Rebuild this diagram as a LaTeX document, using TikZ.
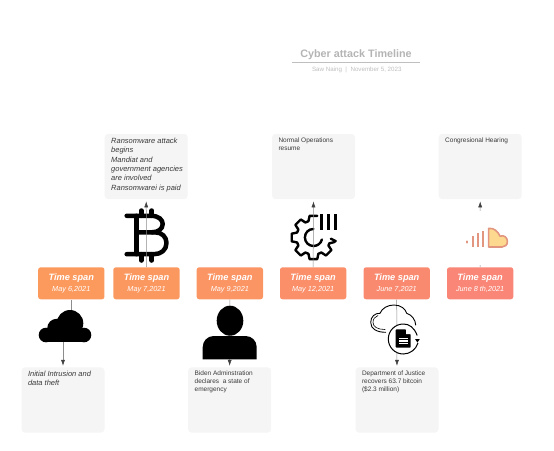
\documentclass[tikz,border=0pt]{standalone}
\usepackage{fontspec}
\setmainfont{Liberation Sans}
\usetikzlibrary{arrows.meta}
\definecolor{infofill}{HTML}{F5F5F5}
\definecolor{infotext}{HTML}{3A3A3A}
\definecolor{connline}{HTML}{8C8C8C}
\definecolor{connhead}{HTML}{404040}
\definecolor{titlegray}{HTML}{B4B4B4}
\definecolor{subgray}{HTML}{BEBEBE}
\definecolor{scbar}{HTML}{E2957F}
\definecolor{scfill}{HTML}{FDD98F}
\definecolor{tA}{HTML}{FC9A5E}
\definecolor{tB}{HTML}{FB9860}
\definecolor{tC}{HTML}{FB9564}
\definecolor{tD}{HTML}{FA8F6A}
\definecolor{tE}{HTML}{F98A70}
\definecolor{tF}{HTML}{F98676}
\newcommand{\spanlabel}[1]{{\fontsize{9.2}{11}\selectfont\bfseries\itshape Time span}\\[-0.5pt]{\fontsize{7.3}{9}\selectfont\itshape #1}}
\newcommand{\infobody}[2]{\parbox[c][59pt][t]{70pt}{\fontsize{#1}{#1}\selectfont\raggedright\hyphenpenalty=10000 #2}}
\tikzset{
  spanbox/.style={fill=#1,rounded corners=2.5pt,minimum width=66.3pt,minimum height=32pt,inner sep=0pt,text=white,align=center},
  infobox/.style={fill=infofill,rounded corners=3.5pt,minimum width=83pt,minimum height=65.3pt,inner xsep=6.5pt,inner ysep=3.15pt,text=infotext},
  conn/.style={draw=connline,line width=0.5pt,-{Latex[length=6pt,width=4pt,color=connhead]}},
  iconline/.style={draw=black,line cap=round,line join=round},
}
\begin{document}
\begin{tikzpicture}[x=1pt,y=-1pt]
\useasboundingbox (0,0) rectangle (554,450);
% title
\node[text=titlegray,inner sep=0pt,font=\fontsize{10.8}{12}\selectfont\bfseries] (title) at (356,55) {Cyber attack Timeline};
\coordinate (ruleL) at (292,62.5);
\coordinate (ruleR) at (420,62.5);
\draw[draw=black!25,line width=0.7pt] (ruleL) -- (ruleR);
\node[text=subgray,inner sep=0pt,font=\fontsize{6.2}{7}\selectfont] (sub) at (356.8,69.5) {Saw Naing\ \ |\ \ November 5, 2023};
% time spans
\node[spanbox=tA] (t1) at (71.3,283.3) {\spanlabel{May 6,2021}};
\node[spanbox=tB] (t2) at (146.5,283.3) {\spanlabel{May 7,2021}};
\node[spanbox=tC] (t3) at (229.85,283.3) {\spanlabel{May 9,2021}};
\node[spanbox=tD] (t4) at (313.15,283.3) {\spanlabel{May 12,2021}};
\node[spanbox=tE] (t5) at (396.7,283.3) {\spanlabel{June 7,2021}};
\node[spanbox=tF] (t6) at (480.15,283.3) {\spanlabel{June 8 th,2021}};
% info boxes
\node[infobox] (i2) at (146.2,166.5) {\infobody{7.5}{\itshape\vspace*{1pt}\baselineskip=9pt Ransomware attack\\begins\par\vspace{1pt}Mandiat and\\\mbox{government agencies}\\are involved\par\vspace{1pt}Ransomwarei is paid}};
\node[infobox] (i4) at (313.5,166.5) {\infobody{6.5}{\vspace*{1pt}\baselineskip=8pt Normal Operations resume}};
\node[infobox] (i6) at (480.2,166.5) {\infobody{6.5}{\vspace*{1pt}\baselineskip=8pt Congresional Hearing}};
\node[infobox] (i1) at (63,400) {\infobody{7.5}{\itshape\vspace*{0.5pt}\baselineskip=9pt Initial Intrusion and data theft}};
\node[infobox] (i3) at (229.65,400) {\infobody{6.5}{\vspace*{0.5pt}\baselineskip=8pt Biden Adminstration declares\ \ a state of emergency}};
\node[infobox] (i5) at (397,400) {\infobody{6.5}{\vspace*{0.5pt}\baselineskip=8pt Department of Justice recovers 63.7 bitcoin (\$2.3 million)}};
% bitcoin icon
\begin{scope}[iconline,line width=4.5pt]
\draw (126.7,215.8) -- (151,215.8) .. controls (159,215.8) and (162.7,220) .. (162.7,224) .. controls (162.7,229) and (158,232.3) .. (152,232.3) -- (136.3,232.3);
\draw (152,232.3) -- (155,232.3) .. controls (162,232.3) and (166.5,237) .. (166.5,243) .. controls (166.5,250) and (161,254.2) .. (154,254.2) -- (126.7,254.2);
\draw (136.3,215.8) -- (136.3,254.2);
\draw (141.3,210.5) -- (141.3,215.8) (151.7,210.5) -- (151.7,215.8);
\draw (141.3,254.2) -- (141.3,260.5) (151.7,254.2) -- (151.7,260.5);
\end{scope}
% gear icon
\begin{scope}[shift={(313.4,237.5)}]
\draw[iconline,line width=2.4pt]
 (-80:22) -- (-100:22) -- (-107:17) -- (-118:17) -- (-125:22) -- (-145:22) -- (-152:17) -- (-163:17)
 -- (-170:22) -- (-190:22) -- (-197:17) -- (-208:17) -- (-215:22) -- (-235:22) -- (-242:17) -- (-253:17)
 -- (-260:22) -- (-280:22) -- (-287:17) -- (-298:17) -- (-305:22) -- (-325:22) -- (-332:17) -- (-340:17)
 -- (-347:21) -- (-351:22.5) -- (-356:17.5);
\draw[iconline,line width=2.4pt] (0,-8.5) .. controls (-5,-8.5) and (-8.5,-4.7) .. (-8.5,0) .. controls (-8.5,4.7) and (-4.7,8.5) .. (0,8.5) .. controls (4,8.5) and (7.5,6) .. (8.5,2);
\end{scope}
\fill[black] (320.2,214.3) rectangle (323,230.3);
\fill[black] (326.9,214.3) rectangle (329.7,230.3);
\fill[black] (334.2,214.3) rectangle (337,230.3);
% connectors
\draw[conn,shorten >=2pt] (t2.north) -- (i2.south);
\draw[conn,shorten >=2pt] (t4.north) -- (i4.south);
\draw[conn,shorten >=2pt] (t6.north) -- (i6.south);
\draw[conn,shorten >=1.3pt] (t1.south) -- ++(0,20) -| (i1.north);
\draw[conn,shorten >=1.3pt] (t3.south) -- (i3.north);
\draw[conn,shorten >=1.3pt] (t5.south) -- (i5.north);
% soundcloud icon
\fill[white] (464,211) rectangle (510,265);
\begin{scope}[draw=scbar,line width=2.2pt]
\draw[line cap=round] (467.3,241.5) -- (467.3,242.5);
\draw (472.7,235.7) -- (472.7,246.7);
\draw (477.7,233.3) -- (477.7,247.3);
\draw (483.3,231) -- (483.3,247.3);
\draw[fill=scfill,line width=1.6pt,line join=round] (488.6,247) -- (488.6,228.4) .. controls (494,227.5) and (498.5,232) .. (500,236.2) .. controls (504,234.6) and (507.4,237.5) .. (507.4,241.5) .. controls (507.4,245) and (505,247) .. (502,247) -- cycle;
\end{scope}
% cloud icon
\fill[black] (70,323.3) circle (13.3);
\fill[black] (56.7,328.3) circle (9.5);
\fill[black] (46,335) circle (7.3);
\fill[black] (84,335) circle (7.3);
\fill[black] (46,330) rectangle (84,342.3);
% person icon
\fill[black] (230,320.7) ellipse (13.3 and 15);
\fill[black] (202.7,359.3) [rounded corners=11pt] -- (202.7,336) -- (256.7,336) [sharp corners] -- (256.7,359.3) -- cycle;
% cloud document icon
\draw[iconline,line width=0.9pt] (385.7,332.3) .. controls (377,332.3) and (370.7,329) .. (370.7,322.5) .. controls (370.7,316.5) and (375,313) .. (380,313.3) .. controls (382,308) and (388,305) .. (394,305) .. controls (401,305) and (405.5,309) .. (406.7,313.3) .. controls (412,315) and (415.5,320) .. (415.7,325);
\draw[iconline,line width=0.6pt] (385,329.5) .. controls (378,329.5) and (373,327) .. (373,322.5) .. controls (373,319) and (375,316.5) .. (378,315.5);
\draw[line width=1pt,fill=white] (417.2,335.5) .. controls (414,327) and (409,324) .. (403.3,324) .. controls (395,324) and (388.3,330.7) .. (388.3,339) .. controls (388.3,347.3) and (395,354) .. (403.3,354) .. controls (410,354) and (416,349.5) .. (418,343);
\fill[black] (415,339) -- (419.8,339) -- (417.4,342.5) -- cycle;
\fill[black,rounded corners=0.8pt] (395.7,329.3) -- (405.5,329.3) -- (410.7,334.5) -- (410.7,347.7) -- (395.7,347.7) -- cycle;
\fill[white] (406,329.3) -- (410.7,334) -- (406,334) -- cycle;
\fill[white] (398.5,337.6) rectangle (408,338.8);
\fill[white] (398.5,340.4) rectangle (408,341.6);
\fill[white] (398.5,343.2) rectangle (408,344.4);
\end{tikzpicture}
\end{document}
